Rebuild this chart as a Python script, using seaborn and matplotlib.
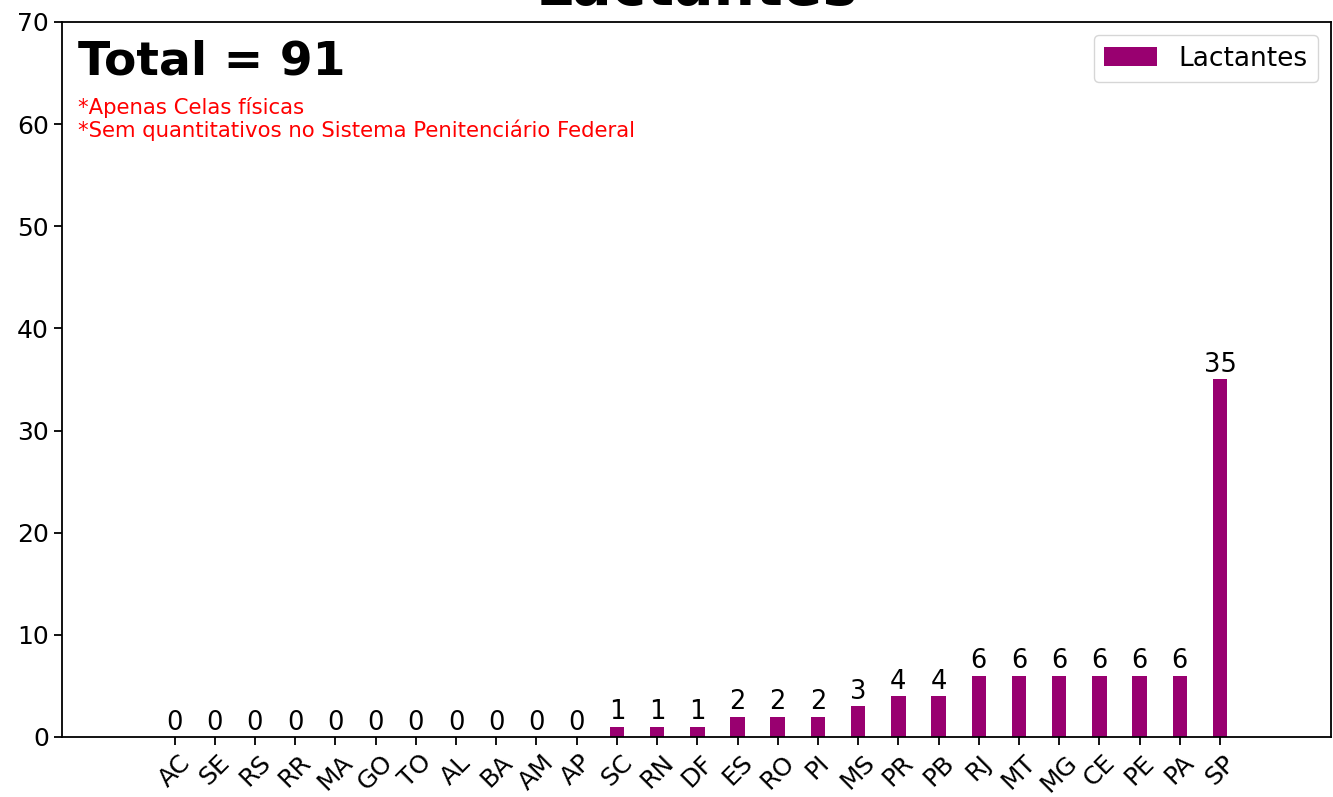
import matplotlib
matplotlib.use("Agg")
import matplotlib.pyplot as plt
import seaborn as sns
import pandas as pd

# data
estados = ['AC', 'SE', 'RS', 'RR', 'MA', 'GO', 'TO', 'AL', 'BA', 'AM', 'AP', 'SC', 'RN', 'DF',
           'ES', 'RO', 'PI', 'MS', 'PR', 'PB', 'RJ', 'MT', 'MG', 'CE', 'PE', 'PA', 'SP']
lactantes = [0, 0, 0, 0, 0, 0, 0, 0, 0, 0, 0, 1, 1, 1, 2, 2, 2, 3, 4, 4, 6, 6, 6, 6, 6, 6, 35]

df = pd.DataFrame({'UF': estados, 'Lactantes': lactantes})
cor = '#990070'

fig = plt.figure(figsize=(13.33, 7.97), dpi=100)
ax = fig.add_axes([0.0465, 0.0753, 0.952, 0.8971])

sns.barplot(data=df, x='UF', y='Lactantes', color=cor, saturation=1, width=0.36,
            label='Lactantes', ax=ax)

ax.bar_label(ax.containers[0], fontsize=18.5, padding=1)

ax.set_xlim(-2.8, 28.76)
ax.set_ylim(0, 70)
ax.set_xlabel('')
ax.set_ylabel('')
ax.tick_params(axis='both', labelsize=18, length=6, width=1.3)
plt.setp(ax.get_xticklabels(), rotation=45)
for s in ax.spines.values():
    s.set_linewidth(1.3)

ax.set_title('Lactantes', fontsize=42, fontweight='bold', pad=12)
ax.text(0.013, 0.976, 'Total = 91', transform=ax.transAxes, fontsize=34,
        fontweight='bold', va='top', ha='left')
ax.text(0.013, 0.895, '*Apenas Celas físicas\n*Sem quantitativos no Sistema Penitenciário Federal',
        transform=ax.transAxes, fontsize=15.3, color='red', va='top', ha='left',
        linespacing=1.1)

ax.legend(loc='upper right', fontsize=19)

fig.savefig('out.png', dpi=100)
